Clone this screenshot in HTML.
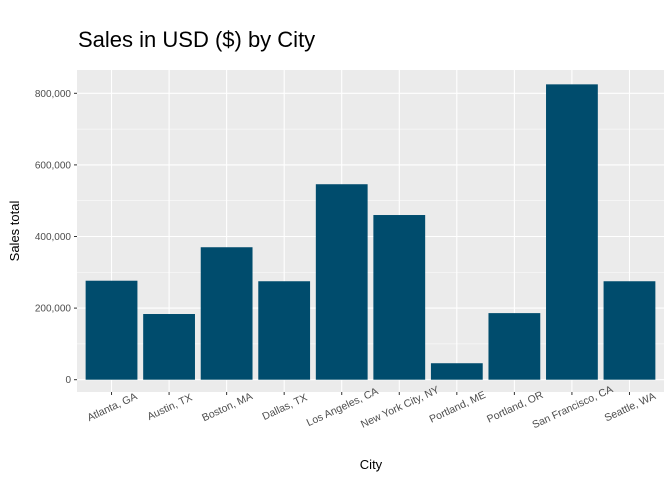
<!DOCTYPE html>
<html><head><meta charset="utf-8"><style>
body{margin:0;background:#fff;font-family:"Liberation Sans",sans-serif}
</style></head><body>
<svg width="672" height="480" xmlns="http://www.w3.org/2000/svg" font-family="Liberation Sans, sans-serif">
<text x="78" y="47" font-size="22" fill="#000">Sales in USD ($) by City</text>
<rect x="77" y="70" width="587" height="322" fill="#ebebeb"/>
<g id="grid"></g><g id="bars"></g><g id="axes"></g>
<text x="371" y="469" font-size="13" text-anchor="middle">City</text>
<text transform="translate(19,231) rotate(-90)" font-size="13" text-anchor="middle">Sales total</text>
</svg>
<script>
const cities=["Atlanta, GA","Austin, TX","Boston, MA","Dallas, TX","Los Angeles, CA","New York City, NY","Portland, ME","Portland, OR","San Francisco, CA","Seattle, WA"];
const sales=[276500,183500,370000,275000,546000,460000,46000,186000,825000,275000];
const yTicks=[0,200000,400000,600000,800000];
const yTickLabels=["0","200,000","400,000","600,000","800,000"];
const NS="http://www.w3.org/2000/svg";
const L=77,R=664,T=70,B=392,y0=379.7,k=286.4/800000;
const y=v=>y0-v*k;
const step=(R-L)/(cities.length+0.2);
const x=i=>L+step*(0.6+i);
function mk(tag,at,parent){const e=document.createElementNS(NS,tag);for(const a in at)e.setAttribute(a,at[a]);document.getElementById(parent).appendChild(e);return e;}
for(let i=0;i<yTicks.length-1;i++){const e=mk('line',{x1:L,x2:R,y1:y((yTicks[i]+yTicks[i+1])/2),y2:y((yTicks[i]+yTicks[i+1])/2),stroke:'#fff','stroke-width':0.5},'grid');

}
{const v=yTicks[yTicks.length-1]+100000;if(y(v)>T){const e=mk('line',{x1:L,x2:R,y1:y(v),y2:y(v),stroke:'#fff','stroke-width':0.5},'grid');

}}
yTicks.forEach((v,i)=>{
const g=mk('line',{x1:L,x2:R,y1:y(v),y2:y(v),stroke:'#fff','stroke-width':1.1},'grid');


const t=mk('line',{x1:L-3,x2:L,y1:y(v),y2:y(v),stroke:'#333','stroke-width':1},'axes');


const l=mk('text',{x:L-6,y:y(v)+3.5,'font-size':10,fill:'#4d4d4d','text-anchor':'end'},'axes');
l.textContent=yTickLabels[i];


});
cities.forEach((c,i)=>{
const g=mk('line',{x1:x(i),x2:x(i),y1:T,y2:B,stroke:'#fff','stroke-width':1.1},'grid');


const w=step*0.9;
const b=mk('rect',{x:x(i)-w/2,y:y(sales[i]),width:w,height:y0-y(sales[i]),fill:'#004c6d'},'bars');


const t=mk('line',{x1:x(i),x2:x(i),y1:B,y2:B+3,stroke:'#333','stroke-width':1},'axes');


const l=mk('text',{transform:`translate(${x(i)+2},${B+18}) rotate(-25)`,'font-size':10.5,fill:'#4d4d4d','text-anchor':'middle'},'axes');
l.textContent=c;


});
</script>
</body></html>
